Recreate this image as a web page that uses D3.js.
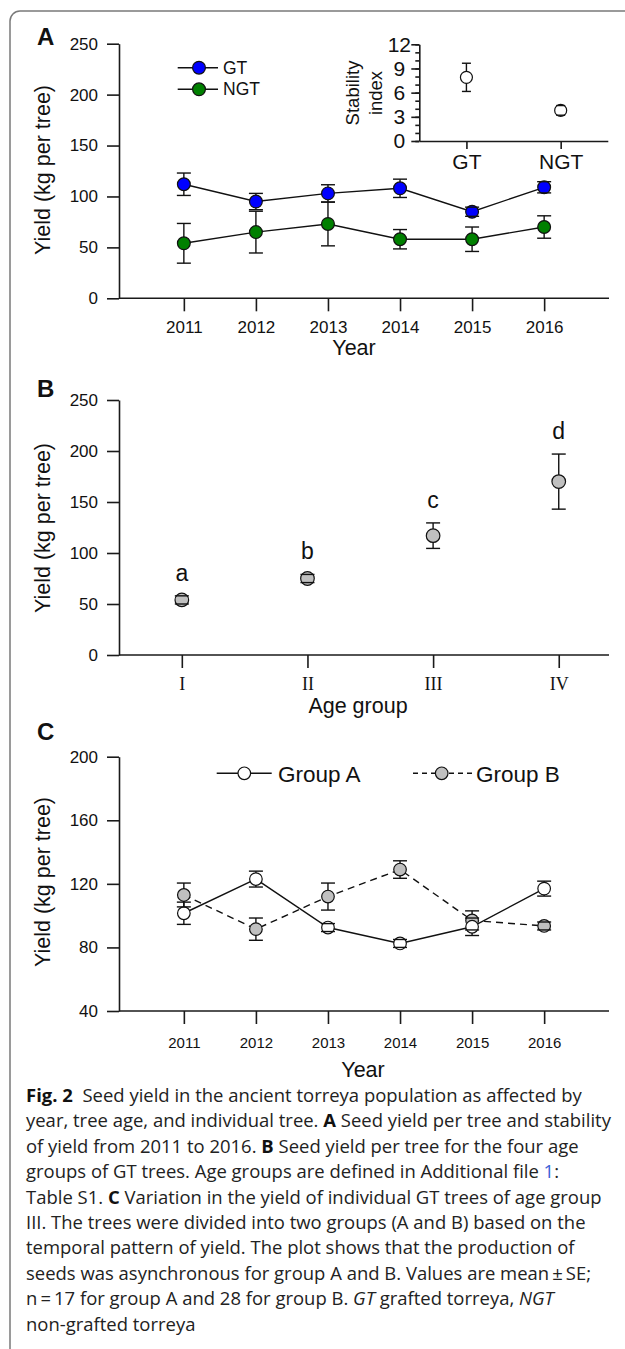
<!DOCTYPE html>
<html>
<head>
<meta charset="utf-8">
<script src="https://cdn.jsdelivr.net/npm/d3@7"></script>
<style>
  body { margin: 0; background: #fff; }
  .axis path, .axis line { stroke: #1a1a1a; stroke-width: 1.6; }
  .axis text { font-family: "Liberation Sans", Arial, sans-serif; fill: #111; }
  .ttl { font-family: "Liberation Sans", Arial, sans-serif; fill: #111; }
  .cap { font-family: "Open Sans", "Noto Sans", sans-serif; fill: #222; white-space: pre; }
</style>
</head>
<body>
<svg id="fig" width="625" height="1349"></svg>
<script>
// ---- data ----
var years = [2011, 2012, 2013, 2014, 2015, 2016];
var gtYield  = [112, 95, 103, 108, 85, 109];
var gtSE     = [11, 8, 8.5, 9, 4.5, 5.5];
var ngtYield = [54, 65, 73, 58, 58, 70];
var ngtSE    = [19.5, 20.5, 21.5, 9.5, 12, 11];

var stabGroups = ["GT", "NGT"];
var stabIndex  = [7.9, 3.8];
var stabSE     = [1.75, 0.6];

var ageGroups  = ["I", "II", "III", "IV"];
var ageYield   = [54, 75, 117, 170];
var ageSE      = [4, 4, 12.5, 27];
var ageLetters = ["a", "b", "c", "d"];

var groupAYield = [101.5, 123, 92.5, 82.5, 93, 117];
var groupASE    = [7, 5, 2.5, 2.5, 5.5, 4.7];
var groupBYield = [113, 91.5, 112, 129, 97, 93.5];
var groupBSE    = [7.5, 7, 8.5, 5.5, 6, 2.5];

var yTicksAB = [0, 50, 100, 150, 200, 250];
var yTicksC  = [40, 80, 120, 160, 200];
var stabTicks = [0, 3, 6, 9, 12];

var svg = d3.select("#fig");

// frame
svg.append("path")
  .attr("d", "M10,1349V21A10,10 0 0 1 20,11H625")
  .attr("fill", "none").attr("stroke", "#7a7a7a").attr("stroke-width", 1.5);

var x0 = 119, x1 = 609;

function yAxis(y, ticks) {
  var g = svg.append("g").attr("class", "axis").attr("transform", "translate(" + x0 + ",0)")
    .call(d3.axisLeft(y).tickValues(ticks).tickSize(12).tickSizeOuter(0).tickPadding(9));
  g.selectAll("text").style("font-size", "17px");
  return g;
}

function xAxis(x, yPos, ticks, fmt, size, pad) {
  var g = svg.append("g").attr("class", "axis").attr("transform", "translate(0," + yPos + ")")
    .call(d3.axisBottom(x).tickValues(ticks).tickFormat(fmt).tickSize(13).tickSizeOuter(0).tickPadding(pad));
  g.select(".domain").attr("d", "M" + x0 + ",0H" + x1);
  g.selectAll("text").style("font-size", size + "px");
  return g;
}

// vertical stems go behind the symbols, caps are drawn on top of them
function stems(xs, ys, vals, ses) {
  var g = svg.append("g").attr("stroke", "#111").attr("stroke-width", 1.4);
  vals.forEach(function(v, i) {
    g.append("line").attr("x1", xs(i)).attr("x2", xs(i))
      .attr("y1", ys(v + ses[i])).attr("y2", ys(v - ses[i]));
  });
}
function caps(xs, ys, vals, ses, half) {
  var g = svg.append("g").attr("stroke", "#111").attr("stroke-width", 1.4);
  vals.forEach(function(v, i) {
    [v + ses[i], v - ses[i]].forEach(function(e) {
      g.append("line").attr("x1", xs(i) - half).attr("x2", xs(i) + half)
        .attr("y1", ys(e)).attr("y2", ys(e));
    });
  });
}

function dots(xs, ys, vals, r, fill) {
  svg.append("g").selectAll("circle").data(vals).enter().append("circle")
    .attr("cx", function(d, i) { return xs(i); })
    .attr("cy", function(d) { return ys(d); })
    .attr("r", r).attr("fill", fill).attr("stroke", "#111").attr("stroke-width", 1.2);
}

function connect(xs, ys, vals, dash) {
  svg.append("path").datum(vals)
    .attr("d", d3.line().x(function(d, i) { return xs(i); }).y(function(d) { return ys(d); }))
    .attr("fill", "none").attr("stroke", "#111").attr("stroke-width", 1.4)
    .attr("stroke-dasharray", dash || null);
}

function yTitle(txt, cx, cy) {
  svg.append("text").attr("class", "ttl").attr("transform", "translate(" + cx + "," + cy + ") rotate(-90)")
    .attr("text-anchor", "middle").style("font-size", "21.5px").text(txt);
}
function xTitle(txt, cx, by) {
  svg.append("text").attr("class", "ttl").attr("x", cx).attr("y", by)
    .attr("text-anchor", "middle").style("font-size", "21.5px").text(txt);
}
function panelLabel(txt, x, y) {
  svg.append("text").attr("class", "ttl").attr("x", x).attr("y", y)
    .style("font-size", "24px").style("font-weight", "bold").text(txt);
}

// ================= Panel A =================
var xA = d3.scaleLinear().domain([2010.1, 2016.9]).range([x0, x1]);
var yA = d3.scaleLinear().domain([0, 250]).range([298.3, 43.7]);
var xiA = function(i) { return xA(years[i]); };

yAxis(yA, yTicksAB);
xAxis(xA, 298.3, years, d3.format("d"), 17, 10);

connect(xiA, yA, gtYield);
connect(xiA, yA, ngtYield);
stems(xiA, yA, gtYield, gtSE);
stems(xiA, yA, ngtYield, ngtSE);
dots(xiA, yA, gtYield, 6.4, "#0000ff");
dots(xiA, yA, ngtYield, 6.4, "#008000");
caps(xiA, yA, gtYield, gtSE, 7);
caps(xiA, yA, ngtYield, ngtSE, 7);

panelLabel("A", 37, 45);
yTitle("Yield (kg per tree)", 50, 170);
xTitle("Year", 354, 355);

// legend A
[["GT", "#0000ff", 67.7], ["NGT", "#008000", 89.3]].forEach(function(l) {
  svg.append("line").attr("x1", 177.7).attr("x2", 218).attr("y1", l[2]).attr("y2", l[2])
    .attr("stroke", "#111").attr("stroke-width", 1.4);
  svg.append("circle").attr("cx", 199).attr("cy", l[2]).attr("r", 6.4)
    .attr("fill", l[1]).attr("stroke", "#111").attr("stroke-width", 1.2);
  svg.append("text").attr("class", "ttl").attr("x", 223).attr("y", l[2] + 6)
    .style("font-size", "17.5px").text(l[0]);
});

// inset: stability index
var xS = d3.scalePoint().domain(stabGroups).range([419.3, 607.8]).padding(0.5);
var yS = d3.scaleLinear().domain([0, 12]).range([141, 44.3]);
var gs = svg.append("g").attr("class", "axis").attr("transform", "translate(419.3,0)")
  .call(d3.axisLeft(yS).tickValues(stabTicks).tickSize(8).tickSizeOuter(0).tickPadding(0));
gs.selectAll("text").attr("x", -20).attr("text-anchor", "middle").style("font-size", "21px");
svg.append("g").attr("class", "axis").attr("transform", "translate(419.3,0)")
  .call(d3.axisLeft(yS).ticks(12).tickSize(4).tickSizeOuter(0).tickFormat(""))
  .select(".domain").remove();
var gsx = svg.append("g").attr("class", "axis").attr("transform", "translate(0,141)")
  .call(d3.axisBottom(xS).tickSize(8).tickSizeOuter(0).tickPadding(5));
gsx.selectAll("text").style("font-size", "21px");
var xiS = function(i) { return xS(stabGroups[i]); };
stems(xiS, yS, stabIndex, stabSE);
dots(xiS, yS, stabIndex, 6, "#fff");
caps(xiS, yS, stabIndex, stabSE, 4.5);
svg.append("text").attr("class", "ttl").attr("transform", "translate(359,93) rotate(-90)")
  .attr("text-anchor", "middle").style("font-size", "18.5px").text("Stability");
svg.append("text").attr("class", "ttl").attr("transform", "translate(382,93) rotate(-90)")
  .attr("text-anchor", "middle").style("font-size", "18.5px").text("index");

// ================= Panel B =================
var xB = d3.scaleLinear().domain([0.5, 4.4]).range([x0, x1]);
var yB = d3.scaleLinear().domain([0, 250]).range([655, 400]);
var xiB = function(i) { return xB(i + 1); };

yAxis(yB, yTicksAB);
var gbx = xAxis(xB, 655, [1, 2, 3, 4], function(d) { return ageGroups[d - 1]; }, 18, 9);
gbx.selectAll("text").style("font-family", "'Liberation Serif', 'Times New Roman', serif");

stems(xiB, yB, ageYield, ageSE);
dots(xiB, yB, ageYield, 6.8, "#c0c0c0");
caps(xiB, yB, ageYield, ageSE, 7);
svg.append("g").selectAll("text").data(ageLetters).enter().append("text")
  .attr("class", "ttl")
  .attr("x", function(d, i) { return xiB(i); })
  .attr("y", function(d, i) { return yB(ageYield[i] + ageSE[i]) - 15; })
  .attr("text-anchor", "middle").style("font-size", "23px")
  .text(function(d) { return d; });

panelLabel("B", 37, 397);
yTitle("Yield (kg per tree)", 50, 528);
xTitle("Age group", 358, 713);

// ================= Panel C =================
var yC = d3.scaleLinear().domain([40, 200]).range([1011, 756.7]);
yAxis(yC, yTicksC);
xAxis(xA, 1011, years, d3.format("d"), 15, 13);

connect(xiA, yC, groupAYield);
connect(xiA, yC, groupBYield, "7,5");
stems(xiA, yC, groupAYield, groupASE);
stems(xiA, yC, groupBYield, groupBSE);
dots(xiA, yC, groupBYield, 6.3, "#c0c0c0");
dots(xiA, yC, groupAYield, 6.3, "#fff");
caps(xiA, yC, groupAYield, groupASE, 7);
caps(xiA, yC, groupBYield, groupBSE, 7);

panelLabel("C", 37, 740);
yTitle("Yield (kg per tree)", 50, 882);
xTitle("Year", 363, 1077);

// legend C
[["Group A", "#fff", 216.7, 271.7, 244.3, 278, null], ["Group B", "#c0c0c0", 413, 473, 441.7, 476, "5,4"]].forEach(function(l) {
  svg.append("line").attr("x1", l[2]).attr("x2", l[3]).attr("y1", 773.3).attr("y2", 773.3)
    .attr("stroke", "#111").attr("stroke-width", 1.4).attr("stroke-dasharray", l[6]);
  svg.append("circle").attr("cx", l[4]).attr("cy", 773.3).attr("r", 6.3)
    .attr("fill", l[1]).attr("stroke", "#111").attr("stroke-width", 1.2);
  svg.append("text").attr("class", "ttl").attr("x", l[5]).attr("y", 781.5)
    .style("font-size", "22.5px").text(l[0]);
});

// ================= caption =================
var capLines = [
  [["Fig. 2", "b"], ["  Seed yield in the ancient torreya population as affected by", ""]],
  [["year, tree age, and individual tree. ", ""], ["A", "b"], [" Seed yield per tree and stability", ""]],
  [["of yield from 2011 to 2016. ", ""], ["B", "b"], [" Seed yield per tree for the four age", ""]],
  [["groups of GT trees. Age groups are defined in Additional file ", ""], ["1", "l"], [":", ""]],
  [["Table S1. ", ""], ["C", "b"], [" Variation in the yield of individual GT trees of age group", ""]],
  [["III. The trees were divided into two groups (A and B) based on the", ""]],
  [["temporal pattern of yield. The plot shows that the production of", ""]],
  [["seeds was asynchronous for group A and B. Values are mean\u2009\u00b1\u2009SE;", ""]],
  [["n\u2009=\u200917 for group A and 28 for group B. ", ""], ["GT", "i"], [" grafted torreya, ", ""], ["NGT", "i"]],
  [["non-grafted torreya", ""]]
];
var capTexts = capLines.map(function(line, k) {
  var t = svg.append("text").attr("class", "cap").style("font-size", "17.5px");
  line.forEach(function(s) {
    var ts = t.append("tspan").text(s[0]);
    if (s[1] === "b") ts.style("font-weight", "bold").style("fill", "#111");
    if (s[1] === "i") ts.style("font-style", "italic");
    if (s[1] === "l") ts.style("fill", "#3d63d6");
  });
  return t;
});
var w1 = capTexts[0].node().getComputedTextLength();
var sx = 556 / w1;
capTexts.forEach(function(t, k) {
  t.attr("transform", "translate(26," + (1102 + k * 25.4) + ") scale(" + sx + ",1)");
});
</script>
</body>
</html>
